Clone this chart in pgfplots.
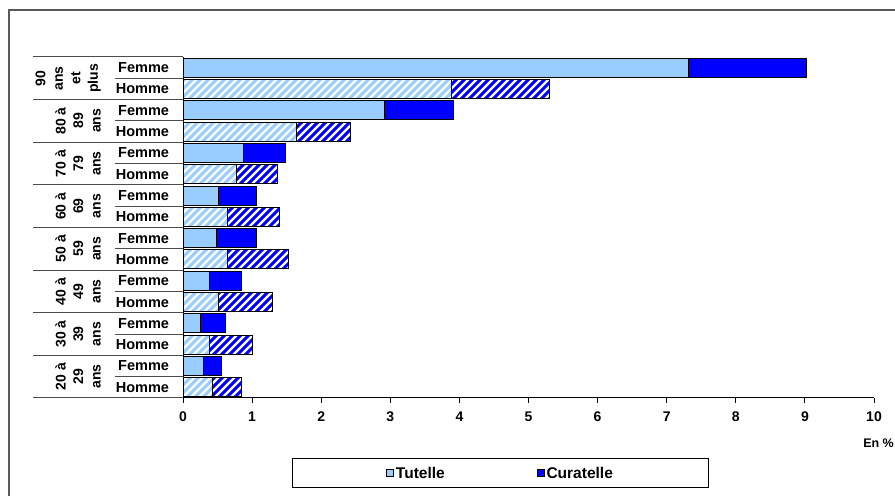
\documentclass[border=0pt]{standalone}
\usepackage{fontspec}
\setmainfont{Liberation Sans}
\usepackage{pgfplots}
\usepackage{pgfplotstable}
\pgfplotsset{compat=1.18}
\usetikzlibrary{patterns}

\definecolor{tut}{HTML}{99CCFF}
\definecolor{cur}{HTML}{0000FF}

% thick "/" stripes for the Homme bars
\pgfdeclarepatternformonly{stripes}{\pgfqpoint{0pt}{0pt}}{\pgfqpoint{8pt}{8pt}}{\pgfqpoint{8pt}{8pt}}{%
  \pgfsetlinewidth{3pt}%
  \pgfpathmoveto{\pgfqpoint{-4pt}{-4pt}}\pgfpathlineto{\pgfqpoint{12pt}{12pt}}%
  \pgfpathmoveto{\pgfqpoint{4pt}{-4pt}}\pgfpathlineto{\pgfqpoint{12pt}{4pt}}%
  \pgfpathmoveto{\pgfqpoint{-4pt}{4pt}}\pgfpathlineto{\pgfqpoint{4pt}{12pt}}%
  \pgfusepath{stroke}}

% y: 0 = 20-29 Homme ... 15 = 90+ Femme
% tf/cf = Femme tutelle/curatelle, th/ch = Homme tutelle/curatelle (en %)
\pgfplotstableread{
y  tf    cf    th    ch
0  0     0     0.43  0.42
1  0.29  0.27  0     0
2  0     0     0.39  0.62
3  0.26  0.35  0     0
4  0     0     0.52  0.77
5  0.38  0.47  0     0
6  0     0     0.65  0.88
7  0.48  0.58  0     0
8  0     0     0.65  0.75
9  0.51  0.56  0     0
10 0     0     0.78  0.59
11 0.87  0.61  0     0
12 0     0     1.64  0.78
13 2.92  1.00  0     0
14 0     0     3.89  1.41
15 7.31  1.72  0     0
}\data

\newcommand{\lab}[1]{\bfseries\fontsize{#1}{#1}\selectfont}

\begin{document}
\begin{tikzpicture}[x=1bp,y=1bp]
\useasboundingbox (0,0) rectangle (895,496);
\draw[black!65, line width=1.6bp] (9,0) -- (9,486) -- (900,486);

\begin{axis}[
  at={(183bp,98bp)}, anchor=south west,
  width=691bp, height=341bp, scale only axis,
  xbar stacked, bar width=19bp,
  xmin=0, xmax=10, ymin=-0.5, ymax=15.5,
  axis x line*=bottom, axis y line*=left,
  axis line style={black, line width=1bp},
  xtick={0,...,10}, ytick={0,...,15},
  yticklabels={Homme,Femme,Homme,Femme,Homme,Femme,Homme,Femme,Homme,Femme,Homme,Femme,Homme,Femme,Homme,Femme},
  ytick style={draw=none},
  xtick style={black, line width=1bp},
  tick align=outside, major tick length=5bp,
  /pgf/number format/assume math mode=true,
  xticklabel style={font=\lab{14bp}, yshift=-5bp},
  yticklabel style={font=\lab{14.5bp}, xshift=-5.5bp},
  every axis plot/.append style={draw=black, line width=1bp},
  legend columns=2,
  legend style={at={(0.4595,-0.2206)}, anchor=center, draw=black, line width=1.2bp,
    font=\lab{15.5bp}, inner xsep=94bp, inner ysep=6bp,
    /tikz/every even column/.append style={column sep=90bp}},
  legend image code/.code={\draw[#1, line width=0.8bp] (0bp,-3.5bp) rectangle (7bp,3.5bp);},
]
\addplot[fill=tut] table[x=tf, y=y] {\data};
\addlegendentry{Tutelle}
\addplot[fill=cur] table[x=cf, y=y] {\data};
\addlegendentry{Curatelle}
\addplot[forget plot, pattern=stripes, pattern color=tut] table[x=th, y=y] {\data};
\addplot[forget plot, pattern=stripes, pattern color=cur] table[x=ch, y=y] {\data};
\end{axis}

% separators of the row labels
\foreach \g in {0,...,8}
  \draw[black!70, line width=1bp] (33,{439-42.625*\g}) -- (183,{439-42.625*\g});
\foreach \g in {0,...,7}
  \draw[black!70, line width=1bp] (115,{439-42.625*\g-21.31}) -- (183,{439-42.625*\g-21.31});

% age groups
\foreach \g/\t in {0/{90\\ans\\et\\plus}, 1/{80 à\\89\\ans}, 2/{70 à\\79\\ans}, 3/{60 à\\69\\ans},
                   4/{50 à\\59\\ans}, 5/{40 à\\49\\ans}, 6/{30 à\\39\\ans}, 7/{20 à\\29\\ans}}
  \node[rotate=90, anchor=south, align=center, inner sep=0pt,
        font=\bfseries\fontsize{14bp}{17.5bp}\selectfont] at (101,{439-42.625*\g-21.31}) {\t};

\node[anchor=east, font=\lab{12.5bp}, inner sep=0pt] at (894,53) {En \%};
\end{tikzpicture}
\end{document}
